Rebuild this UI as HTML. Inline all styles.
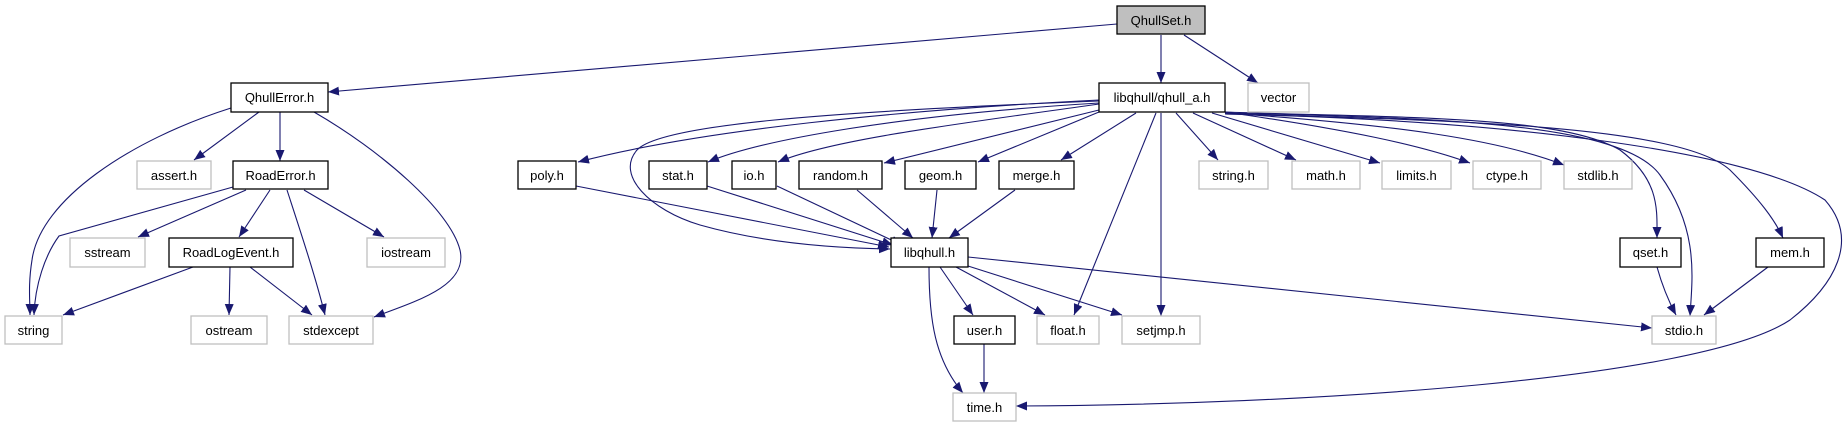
<!DOCTYPE html>
<html><head><meta charset="utf-8"><style>
html,body{margin:0;padding:0;background:#fff;}
svg{display:block;}
text{font-family:"Liberation Sans",sans-serif;font-size:13px;fill:#000;text-anchor:middle;}
.b{fill:#fff;stroke:#000;stroke-width:1.3;}
.g{fill:#fff;stroke:#bfbfbf;stroke-width:1.3;}
.e{fill:none;stroke:#191970;stroke-width:1.1;marker-end:url(#a);}
</style></head><body>
<svg width="1843" height="427" viewBox="0 0 1843 427" xmlns="http://www.w3.org/2000/svg">
<defs><marker id="a" markerUnits="userSpaceOnUse" markerWidth="12" markerHeight="10" refX="11" refY="4.5" orient="auto"><path d="M0,0 L11,4.5 L0,9 z" fill="#191970"/></marker></defs>
<!-- edges -->
<path class="e" d="M1117,24 L328,92"/>
<path class="e" d="M1161,35 L1161,83"/>
<path class="e" d="M1184,35 L1258,83"/>
<path class="e" d="M231,108 C130,140 40,200 32,260 C28,285 30,300 30,315"/>
<path class="e" d="M259,112 L194,160"/>
<path class="e" d="M280,112 L280,161"/>
<path class="e" d="M314,112 C380,150 450,210 460,250 C468,285 420,300 374,317"/>
<path class="e" d="M233,187 L59,236 C45,255 35,285 34,315"/>
<path class="e" d="M246,190 L138,237"/>
<path class="e" d="M270,190 L239,237"/>
<path class="e" d="M287,190 C300,230 315,275 325,315"/>
<path class="e" d="M304,190 L384,237"/>
<path class="e" d="M193,267 L63,315"/>
<path class="e" d="M230,267 L229,315"/>
<path class="e" d="M250,267 L312,315"/>
<path class="e" d="M1099,100 C900,110 700,130 578,162"/>
<path class="e" d="M1099,101 C820,112 660,125 637,150 C615,175 650,210 700,225 C760,242 830,248 890,249"/>
<path class="e" d="M1099,103 C900,115 760,140 708,162"/>
<path class="e" d="M1099,104 C950,125 830,140 778,162"/>
<path class="e" d="M1099,110 L884,163"/>
<path class="e" d="M1099,112 L978,162"/>
<path class="e" d="M1136,113 L1061,160"/>
<path class="e" d="M1156,113 L1074,315"/>
<path class="e" d="M1161,113 L1161,316"/>
<path class="e" d="M1176,113 L1218,160"/>
<path class="e" d="M1193,113 L1296,160"/>
<path class="e" d="M1212,113 L1380,163"/>
<path class="e" d="M1225,112 C1350,130 1420,145 1470,163"/>
<path class="e" d="M1225,113 C1400,125 1500,140 1564,165"/>
<path class="e" d="M1225,112 C1400,118 1560,115 1620,150 C1660,180 1657,210 1657,238"/>
<path class="e" d="M1225,113 C1420,118 1620,120 1660,175 C1700,230 1692,280 1690,316"/>
<path class="e" d="M1225,114 C1450,120 1680,125 1730,170 C1760,200 1775,220 1783,238"/>
<path class="e" d="M1225,114 C1500,120 1750,150 1825,200 C1860,240 1835,285 1790,320 C1700,380 1300,405 1016,406"/>
<path class="e" d="M576,186 L889,247"/>
<path class="e" d="M707,186 L893,245"/>
<path class="e" d="M777,186 L902,245"/>
<path class="e" d="M857,190 L913,238"/>
<path class="e" d="M937,190 L932,238"/>
<path class="e" d="M1015,190 L949,238"/>
<path class="e" d="M940,267 L973,315"/>
<path class="e" d="M956,267 L1045,315"/>
<path class="e" d="M968,266 L1122,315"/>
<path class="e" d="M968,257 L1652,328"/>
<path class="e" d="M929,267 C929,320 935,360 963,393"/>
<path class="e" d="M984,344 L984,393"/>
<path class="e" d="M1657,267 C1662,285 1668,300 1676,315"/>
<path class="e" d="M1768,267 L1704,315"/>
<!-- nodes -->
<rect x="1117" y="6" width="88" height="28" fill="#bfbfbf" stroke="#000" stroke-width="1.3"/><text x="1161" y="25">QhullSet.h</text>
<rect class="b" x="231" y="83" width="97" height="29"/><text x="279.5" y="102">QhullError.h</text>
<rect class="b" x="1099" y="83" width="126" height="29"/><text x="1162" y="102">libqhull/qhull_a.h</text>
<rect class="g" x="1248" y="83" width="61" height="29"/><text x="1278.5" y="102">vector</text>
<rect class="g" x="137" y="161" width="74" height="28"/><text x="174" y="180">assert.h</text>
<rect class="b" x="233" y="161" width="95" height="28"/><text x="280.5" y="180">RoadError.h</text>
<rect class="b" x="518" y="161" width="58" height="28"/><text x="547" y="180">poly.h</text>
<rect class="b" x="649" y="161" width="58" height="28"/><text x="678" y="180">stat.h</text>
<rect class="b" x="732" y="161" width="44" height="28"/><text x="754" y="180">io.h</text>
<rect class="b" x="799" y="161" width="83" height="28"/><text x="840.5" y="180">random.h</text>
<rect class="b" x="905" y="161" width="71" height="28"/><text x="940.5" y="180">geom.h</text>
<rect class="b" x="999" y="161" width="75" height="28"/><text x="1036.5" y="180">merge.h</text>
<rect class="g" x="1199" y="161" width="69" height="28"/><text x="1233.5" y="180">string.h</text>
<rect class="g" x="1292" y="161" width="68" height="28"/><text x="1326" y="180">math.h</text>
<rect class="g" x="1382" y="161" width="69" height="28"/><text x="1416.5" y="180">limits.h</text>
<rect class="g" x="1473" y="161" width="68" height="28"/><text x="1507" y="180">ctype.h</text>
<rect class="g" x="1564" y="161" width="68" height="28"/><text x="1598" y="180">stdlib.h</text>
<rect class="g" x="70" y="238" width="75" height="29"/><text x="107.5" y="257">sstream</text>
<rect class="b" x="169" y="238" width="124" height="29"/><text x="231" y="257">RoadLogEvent.h</text>
<rect class="g" x="367" y="238" width="78" height="29"/><text x="406" y="257">iostream</text>
<rect class="b" x="891" y="238" width="77" height="29"/><text x="929.5" y="257">libqhull.h</text>
<rect class="b" x="1620" y="238" width="61" height="29"/><text x="1650.5" y="257">qset.h</text>
<rect class="b" x="1756" y="238" width="68" height="29"/><text x="1790" y="257">mem.h</text>
<rect class="g" x="5" y="316" width="57" height="28"/><text x="33.5" y="335">string</text>
<rect class="g" x="191" y="316" width="76" height="28"/><text x="229" y="335">ostream</text>
<rect class="g" x="289" y="316" width="84" height="28"/><text x="331" y="335">stdexcept</text>
<rect class="b" x="954" y="316" width="61" height="28"/><text x="984.5" y="335">user.h</text>
<rect class="g" x="1037" y="316" width="62" height="28"/><text x="1068" y="335">float.h</text>
<rect class="g" x="1122" y="316" width="78" height="28"/><text x="1161" y="335">setjmp.h</text>
<rect class="g" x="1652" y="316" width="64" height="28"/><text x="1684" y="335">stdio.h</text>
<rect class="g" x="953" y="393" width="63" height="28"/><text x="984.5" y="412">time.h</text>
</svg>
</body></html>
